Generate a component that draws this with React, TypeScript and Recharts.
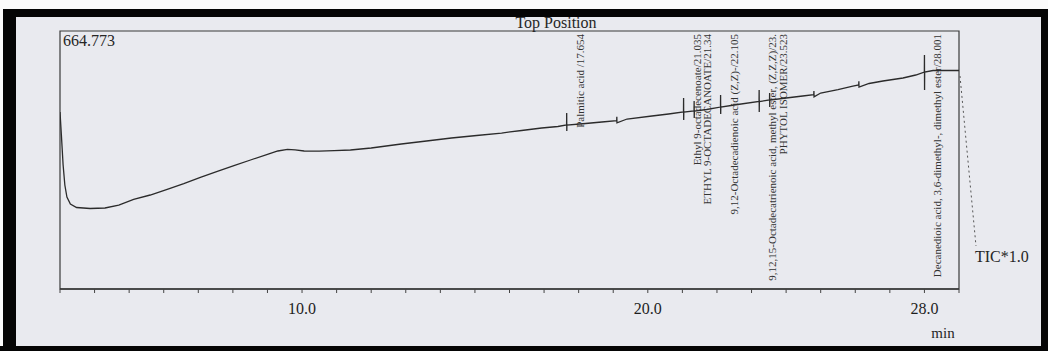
import React from 'react';
import { LineChart, Line, XAxis, YAxis, ReferenceArea, ReferenceLine } from 'recharts';

// Retention time (min) and TIC intensity
const retentionTime = [
  3.0, 3.04, 3.09, 3.14, 3.2, 3.3, 3.48, 3.87, 4.3, 4.7, 5.13, 5.61, 6.1, 6.58, 7.06, 7.55, 8.03, 8.51,
  9.0, 9.3, 9.58, 9.8, 10.06, 10.5, 10.93, 11.4, 12.0, 12.87, 13.6, 14.32, 15.05, 15.77, 16.35, 16.93, 17.4,
  17.651, 17.654, 17.657, 17.66,
  18.2, 18.67, 19.1, 19.104, 19.108, 19.4, 20.12, 20.6,
  21.032, 21.035, 21.038, 21.041,
  21.337, 21.34, 21.343, 21.346,
  21.7,
  22.102, 22.105, 22.108, 22.111,
  22.6,
  23.217, 23.22, 23.223, 23.226,
  23.52, 23.523, 23.526, 23.529,
  24.0, 24.48, 24.8, 24.804, 24.808, 25.0, 25.5, 25.93, 26.1, 26.104, 26.108, 26.4, 26.8, 27.38, 27.75,
  27.998, 28.001, 28.004, 28.007,
  28.25, 29.0,
];
const ticIntensity = [
  456.1, 396.8, 319.5, 268.0, 237.0, 219.0, 210.0, 207.4, 208.7, 216.4, 231.1, 242.2, 256.9, 271.8, 287.8, 302.8, 317.7, 332.4,
  347.1, 355.6, 359.9, 358.7, 355.6, 355.1, 356.3, 358.1, 363.3, 373.6, 381.3, 389.1, 395.5, 401.9, 408.4, 414.8, 418.7,
  422.6, 453.5, 407.1, 422.6,
  426.4, 430.3, 434.0, 444.0, 428.0, 438.0, 445.8, 450.9,
  456.1, 492.1, 435.4, 456.1,
  458.6, 484.4, 440.6, 458.6,
  462.5,
  468.9, 499.9, 450.9, 468.9,
  475.4,
  483.1, 512.7, 456.1, 483.1,
  487.0, 505.0, 468.9, 487.0,
  492.1, 497.3, 501.0, 510.0, 495.0, 505.0, 514.0, 523.0, 526.0, 535.0, 520.0, 529.5, 535.9, 543.7, 551.4,
  559.1, 602.9, 512.7, 559.1,
  563.0, 563.0,
];

const peakTimes = [17.654, 21.035, 21.34, 22.105, 23.22, 23.523, 28.001];
const peakNames = [
  'Palmitic acid /17.654',
  'Ethyl 9-octadecenoate/21.035',
  'ETHYL 9-OCTADECANOATE/21.34',
  '9,12-Octadecadienoic acid (Z,Z)-/22.105',
  '9,12,15-Octadecatrienoic acid, methyl ester, (Z,Z,Z)/23.',
  'PHYTOL ISOMER/23.523',
  'Decanedioic acid, 3,6-dimethyl-, dimethyl ester/28.001',
];

const xTicks = [3, 4, 5, 6, 7, 8, 9, 10, 11, 12, 13, 14, 15, 16, 17, 18, 19, 20, 21, 22, 23, 24, 25, 26, 27, 28, 29];
const labelledTicks = [10, 20, 28];
const xMin = 3;
const xMax = 29;
const yMax = 664.773;
const yMaxLabel = '664.773';
const title = 'Top Position';
const scaleLabel = 'TIC*1.0';
const unitLabel = 'min';

const data = retentionTime.map((t, i) => ({ t, tic: ticIntensity[i] }));

const SERIF = '"Liberation Serif", "DejaVu Serif", serif';
const INK = '#262626';

const PeakLabel = (props: any) => {
  const vb = props.viewBox || {};
  const x = (vb.x ?? 0) + 13;
  const y = (vb.y ?? 0) + 3;
  return (
    <text
      x={x}
      y={y}
      transform={`rotate(-90 ${x} ${y})`}
      textAnchor="end"
      dominantBaseline="central"
      fontSize={11}
      fontFamily={SERIF}
      fill="#333"
    >
      {props.text}
    </text>
  );
};

const W = 1048;
const H = 351;
const PLOT_LEFT = 60;
const PLOT_RIGHT = 959;
const PLOT_TOP = 31;
const PLOT_BOTTOM = 289;
const AXIS_H = 30;

export default function App() {
  return (
    <div style={{ position: 'absolute', left: 0, top: 0, width: W, height: H, background: '#e9eaef', overflow: 'hidden' }}>
      {/* scan border */}
      <div style={{ position: 'absolute', left: 0, top: 0, width: W, height: 9, background: '#fbfbfb' }} />
      <div style={{ position: 'absolute', left: 0, top: 9, width: W, height: 8, background: '#050505' }} />
      <div style={{ position: 'absolute', left: 3, top: 9, width: 13, height: H - 9, background: '#050505' }} />
      <div style={{ position: 'absolute', left: 0, top: 9, width: 3, height: H - 9, background: '#fbfbfb' }} />
      <div style={{ position: 'absolute', left: 0, top: 346, width: W, height: 5, background: '#050505' }} />
      <div style={{ position: 'absolute', left: 1041, top: 9, width: 7, height: H - 9, background: '#050505' }} />

      <div style={{ position: 'absolute', left: 0, top: 0 }}>
        <LineChart
          width={W}
          height={H}
          data={data}
          margin={{ top: PLOT_TOP, right: W - PLOT_RIGHT, bottom: H - PLOT_BOTTOM - AXIS_H, left: PLOT_LEFT }}
        >
          <XAxis
            dataKey="t"
            type="number"
            domain={[xMin, xMax]}
            ticks={xTicks}
            interval={0}
            allowDataOverflow
            height={AXIS_H}
            tickSize={4}
            tickMargin={10}
            axisLine={{ stroke: '#333', strokeWidth: 1.3 }}
            tickLine={{ stroke: '#444' }}
            tick={{ fontSize: 16, fontFamily: SERIF, fill: '#1e1e1e' }}
            tickFormatter={(v: number) => (labelledTicks.includes(v) ? v.toFixed(1) : '')}
          />
          <YAxis hide type="number" domain={[0, yMax]} allowDataOverflow />
          <ReferenceArea
            x1={xMin}
            x2={xMax}
            y1={0}
            y2={yMax}
            fill="none"
            stroke="#3a3a3a"
            strokeWidth={1.2}
            fillOpacity={0}
          />
          {peakTimes.map((t, i) => (
            <ReferenceLine key={i} x={t} stroke="none" label={<PeakLabel text={peakNames[i]} />} />
          ))}
          <Line
            type="linear"
            dataKey="tic"
            stroke="#2b2b2b"
            strokeWidth={1.3}
            dot={false}
            isAnimationActive={false}
          />
        </LineChart>
      </div>

      <svg width={W} height={H} style={{ position: 'absolute', left: 0, top: 0, pointerEvents: 'none' }}>
        <text x={556} y={28} textAnchor="middle" fontSize={16} fontFamily={SERIF} fill={INK}>
          {title}
        </text>
        <text x={63} y={46} fontSize={16} fontFamily={SERIF} fill={INK}>
          {yMaxLabel}
        </text>
        <text x={975} y={262} fontSize={16} fontFamily={SERIF} fill={INK}>
          {scaleLabel}
        </text>
        <text x={943} y={338} textAnchor="middle" fontSize={15} fontFamily={SERIF} fill={INK}>
          {unitLabel}
        </text>
        <line x1={960} y1={76} x2={976} y2={246} stroke="#555" strokeWidth={1} strokeDasharray="2 3" />
      </svg>
    </div>
  );
}
